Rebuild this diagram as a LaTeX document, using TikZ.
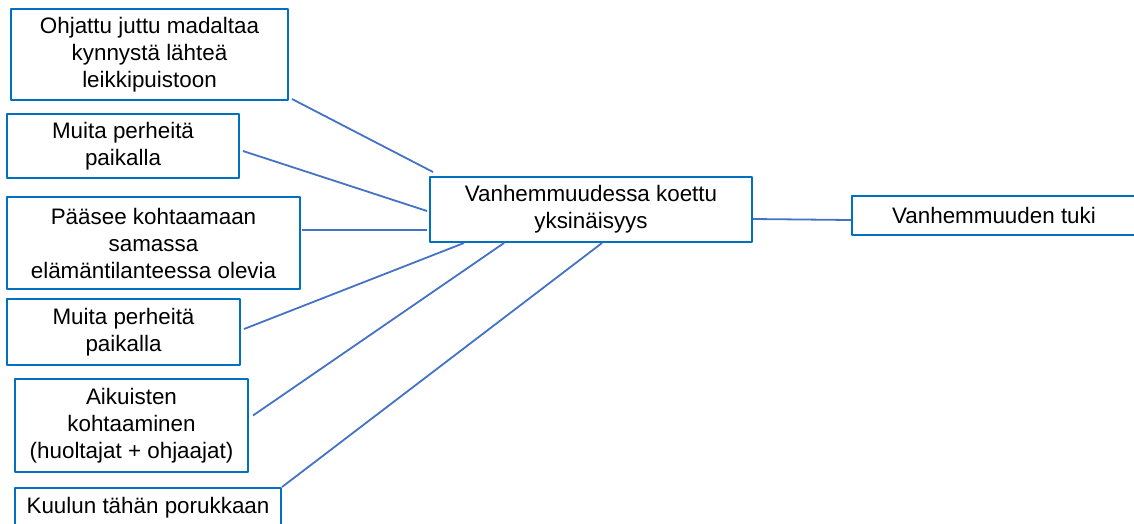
\documentclass[tikz,border=0pt]{standalone}
\usepackage{fontspec}
\setmainfont{Liberation Sans}
\definecolor{boxblue}{HTML}{0070C0}
\definecolor{lineblue}{HTML}{4472C4}
\begin{document}
\begin{tikzpicture}[x=1pt, y=-1pt, line join=round,
  box/.style={draw=boxblue, line width=2pt, rectangle, align=center, inner sep=0pt, font=\fontsize{22.4}{27}\selectfont},
  link/.style={draw=lineblue, line width=1.8pt}]
\useasboundingbox (0,0) rectangle (1134,523);
\clip (0,0) rectangle (1134,523);
% left column
\node[box, minimum width=277pt, minimum height=91pt] (ohjattu) at (149.5,54.5) {Ohjattu juttu madaltaa\\kynnystä lähteä\\leikkipuistoon};
\node[box, minimum width=232pt, minimum height=64pt] (muitaA) at (123,146) {Muita perheitä\\paikalla};
\node[box, minimum width=293pt, minimum height=92pt] (paasee) at (153.5,243) {Pääsee kohtaamaan\\samassa\\elämäntilanteessa olevia};
\node[box, minimum width=233pt, minimum height=66pt] (muitaB) at (123.5,332) {Muita perheitä\\paikalla};
\node[box, minimum width=233pt, minimum height=93pt] (aikuiset) at (131.5,425.5) {Aikuisten\\kohtaaminen\\(huoltajat + ohjaajat)};
\node[box, minimum width=266pt, minimum height=40pt] (kuulun) at (148,508) {Kuulun tähän porukkaan};
% middle and right
\node[box, minimum width=322pt, minimum height=65pt] (yksin) at (591,209.5) {Vanhemmuudessa koettu\\yksinäisyys};
\node[box, minimum width=284pt, minimum height=39pt] (tuki) at (994,215.5) {Vanhemmuuden tuki};
% connectors
\draw[link] ([xshift=3pt,yshift=2pt]ohjattu.south east) -- ([xshift=4pt,yshift=4pt]yksin.north west);
\draw[link] ([xshift=3pt,yshift=-5pt]muitaA.east) -- ([xshift=-2pt,yshift=-1.5pt]yksin.west);
\draw[link] ([xshift=1pt,yshift=13pt]paasee.east) -- ([xshift=-2pt,yshift=13pt]yksin.south west);
\draw[link] ([xshift=3pt,yshift=3pt]muitaB.east) -- ([xshift=35pt]yksin.south west);
\draw[link] ([xshift=4pt,yshift=10pt]aikuiset.east) -- ([xshift=75pt]yksin.south west);
\draw[link] (kuulun.north east) -- ([xshift=173pt]yksin.south west);
\draw[link] ([yshift=-9.5pt]yksin.east) -- ([yshift=-4.5pt]tuki.west);
\end{tikzpicture}
\end{document}
